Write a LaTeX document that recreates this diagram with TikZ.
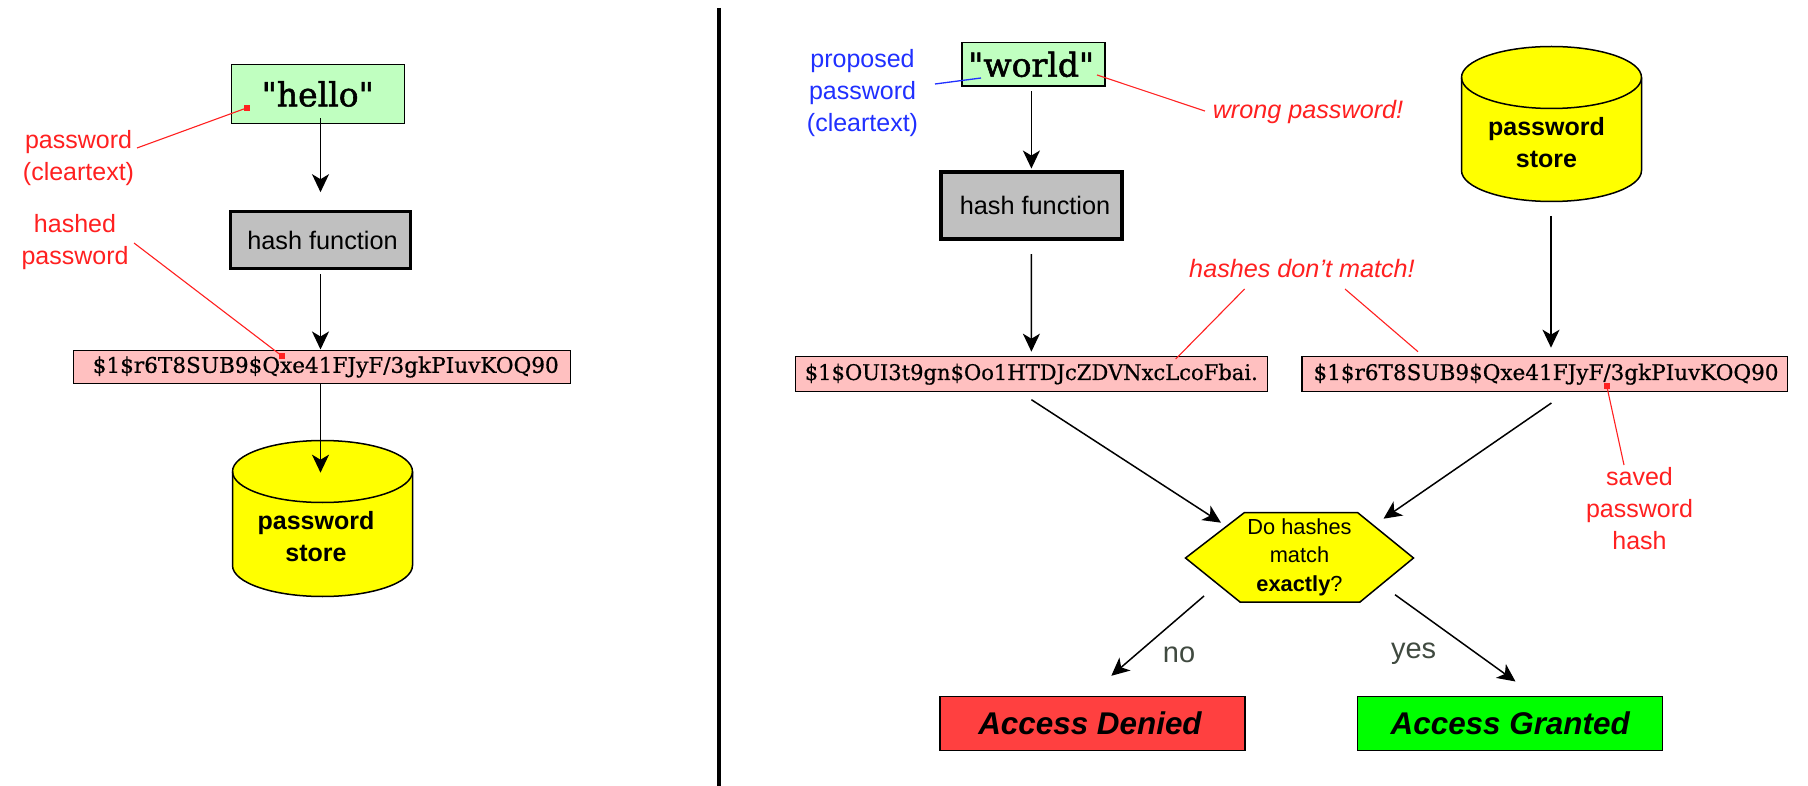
\documentclass[tikz,border=0pt]{standalone}
\usepackage{fontspec}
\usepackage{graphicx}
\setmainfont{Liberation Sans}
\newfontfamily\wordfam[FakeBold=1.6]{DejaVu Serif}
\newfontfamily\serfam[FakeBold=0.6]{DejaVu Serif}
\usetikzlibrary{arrows.meta}
\newcommand{\hashtxt}[2]{\resizebox{#1pt}{\height}{\serfam\fontsize{21.5}{24}\selectfont #2}}
\tikzset{
  x=1pt,y=-1pt,
  basebox/.style={draw=black,line width=1.5pt,inner sep=0pt,outer sep=0pt,anchor=center},
  wordbox/.style={basebox,fill=wordgreen,font=\wordfam\fontsize{33}{33}\selectfont},
  fnbox/.style={basebox,fill=fngray,line width=3.5pt,font=\fontsize{25.3}{25.3}\selectfont,minimum width=180pt},
  barbox/.style={basebox,fill=barpink,minimum height=35pt},
  resultbox/.style={basebox,minimum width=305pt,minimum height=54pt,font=\bfseries\itshape\fontsize{31.4}{31.4}\selectfont},
  storefit/.style={inner sep=0pt,outer sep=0pt,minimum width=181pt},
  storepath/.style={draw=black,line width=1.5pt,fill=pureyellow},
  storetxt/.style={align=center,inner sep=0pt,font=\bfseries\fontsize{25}{32}\selectfont},
  note/.style={align=center,inner sep=0pt,font=\fontsize{25}{32}\selectfont},
  rednote/.style={note,text=notered},
  bluenote/.style={note,text=noteblue},
  italnote/.style={rednote,font=\itshape\fontsize{25.2}{32}\selectfont},
  branchlbl/.style={inner sep=0pt,text=branchgray,font=\fontsize{29}{29}\selectfont},
  flow/.style={draw=black,line width=1.5pt,-{Stealth[length=18pt,width=17pt,inset=5pt]}},
  redlead/.style={draw=notered,line width=1.1pt},
  bluelead/.style={draw=noteblue,line width=1.3pt},
  reddot/.style={fill=notered,inner sep=0pt,outer sep=0pt,minimum size=6pt},
}
\definecolor{wordgreen}{HTML}{C0FFC0}
\definecolor{fngray}{HTML}{C0C0C0}
\definecolor{barpink}{HTML}{FFC0C0}
\definecolor{deniedred}{HTML}{FF4040}
\definecolor{grantgreen}{HTML}{00FF00}
\definecolor{pureyellow}{HTML}{FFFF00}
\definecolor{notered}{HTML}{FF2020}
\definecolor{noteblue}{HTML}{2030FF}
\definecolor{branchgray}{HTML}{404A40}
\begin{document}
\begin{tikzpicture}
\useasboundingbox (0,0) rectangle (1808,786);
\fill[white] (0,0) rectangle (1808,786);
% divider
\draw[line width=3.6pt] (719,8) -- (719,786);

% ---- left panel
\node[wordbox,minimum width=173pt,minimum height=59pt] (hello) at (317.75,94) {"hello"};
\node[fnbox,minimum height=57pt] (hash1) at (320.5,240) {\kern4pt hash function};
\node[barbox,minimum width=497pt,minimum height=33pt] (bar0) at (321.75,367) {\kern8pt\hashtxt{466}{\$1\$r6T8SUB9\$Qxe41FJyF/3gkPIuvKOQ90}};
\path[storepath] (232.5,471.5) -- (232.5,565.5) arc[start angle=180,end angle=0,x radius=90,y radius=31] -- (412.5,471.5) arc[start angle=0,end angle=-180,x radius=90,y radius=31] -- cycle;
\draw[storepath,fill=none] (232.5,471.5) arc[start angle=180,end angle=0,x radius=90,y radius=31];
\node[storefit,minimum height=157pt] (store1) at (322.5,518.5) {};
\node[storetxt] (store1t) at (316,536.5) {password\\store};
\node[rednote] (pwl) at (78.5,158) {password\\(cleartext)};
\node[rednote] (hpl) at (75,242.5) {hashed\\password};
\node[reddot] (dot1) at (246.5,108) {};
\node[reddot] (dot2) at (282,356) {};
\draw[redlead] ([shift={(58.5,-10)}]pwl.center) -- (dot1.center);
\draw[redlead] ([shift={(59,0.5)}]hpl.center) -- (dot2.center);
\draw[flow] ([shift={(2.75,-5)}]hello.south) -- ([shift={(0,-19.3)}]hash1.north);
\draw[flow] ([shift={(0,6)}]hash1.south) -- ([shift={(-1.25,-1)}]bar0.north);
\draw[flow] ([shift={(-1.25,0)}]bar0.south) -- ([shift={(-2,32.7)}]store1.north);

% ---- right panel
\node[wordbox,minimum width=143pt,minimum height=43.5pt] (wrd) at (1033.7,64.35) {\raisebox{-1pt}{"world"}\kern5pt};
\node[fnbox,minimum width=181pt,minimum height=67pt] (hash2) at (1031.5,205.35) {\kern7pt hash function};
\node[barbox,minimum width=472pt] (bar1) at (1031.3,374.2) {\hashtxt{453}{\$1\$OUI3t9gn\$Oo1HTDJcZDVNxcLcoFbai.}};
\node[barbox,minimum width=485.5pt] (bar2) at (1544.5,374.2) {\kern3pt\hashtxt{465}{\$1\$r6T8SUB9\$Qxe41FJyF/3gkPIuvKOQ90}};
\path[storepath] (1461.5,77.5) -- (1461.5,170.5) arc[start angle=180,end angle=0,x radius=90,y radius=31] -- (1641.5,77.5) arc[start angle=0,end angle=-180,x radius=90,y radius=31] -- cycle;
\draw[storepath,fill=none] (1461.5,77.5) arc[start angle=180,end angle=0,x radius=90,y radius=31];
\node[storefit,minimum height=156pt] (store2) at (1551.5,124) {};
\node[storetxt] (store2t) at (1546.5,142.5) {password\\store};

\path[draw=black,line width=1.5pt,fill=pureyellow] (1185.5,558) -- (1244.5,512.5) -- (1357.5,512.5) -- (1413.5,558) -- (1360,602) -- (1240,602) -- cycle;
\node[inner sep=0pt,outer sep=0pt,minimum width=229pt,minimum height=90.7pt] (match) at (1299.5,557.35) {};
\node[align=center,inner sep=0pt,font=\fontsize{21.8}{28.4}\selectfont] (matcht) at (1299.5,557) {Do hashes\\match\\\textbf{exactly}?};

\node[resultbox,fill=deniedred] (denied) at (1092.5,723.5) {Access Denied\kern5pt};
\node[resultbox,fill=grantgreen] (granted) at (1510.2,723.5) {Access Granted};
\node[branchlbl] (nol) at (1179,654.7) {no};
\node[branchlbl] (yesl) at (1413.6,654) {yes};

\node[bluenote] (ppl) at (862.5,93) {proposed\\password\\(cleartext)};
\node[italnote] (wrl) at (1308,112) {wrong password!};
\node[italnote] (dml) at (1302,268) {hashes don't match!};
\node[rednote] (svl) at (1639.5,508.7) {saved\\password\\hash};
\node[reddot] (dot3) at (1606.7,385.7) {};

\draw[bluelead] ([shift={(72.5,-9)}]ppl.center) -- ([shift={(-52.7,13.65)}]wrd.center);
\draw[redlead] ([shift={(63.3,10.65)}]wrd.center) -- ([shift={(-7.6,-1)}]wrl.west);
\draw[redlead] ([shift={(-57.4,21)}]dml.center) -- ([shift={(144.4,2.3)}]bar1.north);
\draw[redlead] ([shift={(43,21)}]dml.center) -- ([shift={(-126.5,-5)}]bar2.north);
\draw[redlead] (dot3.center) -- ([shift={(-15.5,-43.7)}]svl.center);

\draw[flow] ([shift={(-2.3,5.3)}]wrd.south) -- ([shift={(-0.1,-3.3)}]hash2.north);
\draw[flow] ([shift={(-0.1,15.3)}]hash2.south) -- ([shift={(0.1,-5)}]bar1.north);
\draw[flow] ([shift={(-0.5,14)}]store2.south) -- ([shift={(6.5,-9)}]bar2.north);
\draw[flow] ([shift={(0.1,8)}]bar1.south) -- ([shift={(-78.5,-34.65)}]match.center);
\draw[flow] ([shift={(6.9,11.3)}]bar2.south) -- ([shift={(84,-38.65)}]match.center);
\draw[flow] ([shift={(-95.5,38.65)}]match.center) -- ([shift={(18.8,-20.7)}]denied.north);
\draw[flow] ([shift={(95.5,37.35)}]match.center) -- ([shift={(5.3,-15)}]granted.north);
\end{tikzpicture}
\end{document}
